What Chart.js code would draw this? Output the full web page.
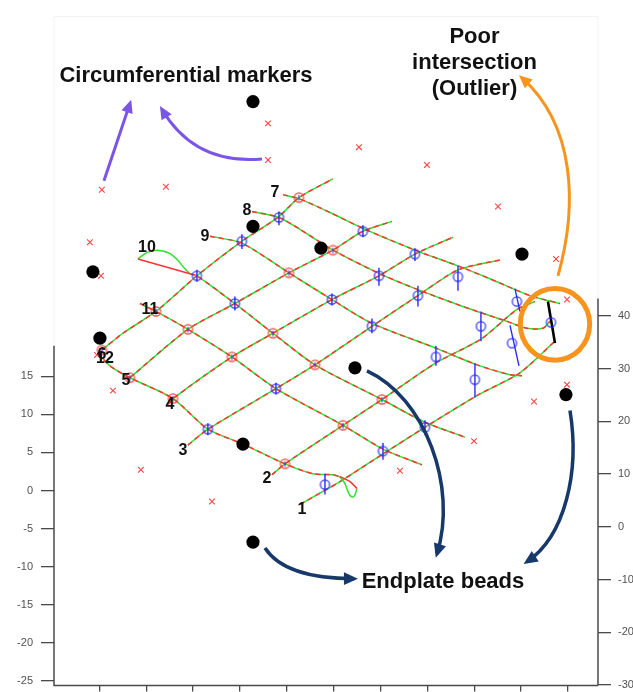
<!DOCTYPE html>
<html>
<head>
<meta charset="utf-8">
<title>Endplate grid</title>
<script src="https://cdn.jsdelivr.net/npm/chart.js@4.4.1/dist/chart.umd.min.js"></script>
<style>
  html, body { margin: 0; padding: 0; background: #ffffff; }
  canvas { display: block; }
</style>
</head>
<body>
<canvas id="grid" width="633" height="692"></canvas>
<script>
// ---- axes ----
const xTicks = [-25, -20, -15, -10, -5, 0, 5, 10, 15, 20, 25];
const leftTicks = [-25, -20, -15, -10, -5, 0, 5, 10, 15];
const rightTicks = [-30, -20, -10, 0, 10, 20, 30, 40];
const xRange = [-29.84, 28.2];
const leftRange = [-25.58, 63.51];
const rightRange = [-30.08, 98.65];
const leftAxisTop = 19;      // left axis line stops here (left units)
const rightAxisTop = 43.3;   // right axis line stops here (right units)
const frameTop = 62.2;       // faint outer box (left units)

// ---- traced lines, [x, y] in left-axis units ----
const line7 = [[-5.41,38.83],[-3.71,38.31],[-0.40,36.49],[3.12,34.41],[8.67,31.55],[13.26,29.48],[16.67,27.79],[20.94,25.58],[24.14,24.54]];
const line8 = [[-8.72,36.62],[-5.84,35.84],[-3.60,34.28],[-0.08,31.55],[4.94,28.44],[8.99,26.36],[13.79,24.15],[18.49,22.20],[20.62,21.29],[22.33,21.29],[23.08,22.20]];
const line9 = [[-13.20,33.37],[-9.79,32.46],[-4.77,28.57],[-0.19,25.06],[4.08,21.94],[10.91,18.69],[15.29,16.49],[18.81,15.19],[20.09,15.06]];
const line10 = [[-15.34,28.44],[-14.59,28.18],[-10.54,24.54],[-6.48,20.64],[-2.00,16.49],[5.15,11.94],[9.74,8.95],[14.01,7.00]];
const line10Chord = [[-20.89,30.39],[-15.34,28.44]];
const line10Loop = [[-20.89,30.39],[-19.82,31.29],[-18.54,31.49],[-17.15,30.84],[-15.87,29.09],[-15.34,28.44]];
const line11 = [[-20.67,24.54],[-18.96,23.50],[-15.55,21.16],[-10.86,17.53],[-6.16,13.37],[0.99,8.56],[5.26,5.44],[9.42,3.37]];
const line12 = [[-25.15,18.04],[-23.87,16.36],[-21.74,14.80],[-17.15,12.07],[-13.42,8.04],[-9.68,6.09],[-5.20,3.50],[-2.21,2.20],[-0.08,2.07],[0.67,1.81]];
const line12Chord = [[0.67,1.81],[1.74,1.16],[2.48,0.25]];
const line12Loop = [[0.67,1.81],[1.20,0.90],[1.74,-0.66],[2.16,-0.79],[2.48,0.25]];
const line6 = [[-24.73,18.43],[-22.49,20.64],[-18.96,23.50],[-14.59,28.18],[-9.79,32.72],[-5.95,35.84],[-3.71,38.44],[-0.08,40.91]];
const line5 = [[-21.74,14.80],[-15.55,21.16],[-10.54,24.54],[-4.77,28.57],[-0.08,31.55],[3.12,34.02],[6.22,35.32]];
const line4 = [[-17.68,11.29],[-17.15,12.07],[-10.86,17.53],[-6.48,20.64],[-0.19,25.06],[4.83,28.18],[8.67,31.03],[12.73,33.24]];
const line3 = [[-15.55,5.96],[-13.42,8.04],[-6.16,13.37],[-2.00,16.49],[4.08,21.55],[8.99,25.58],[13.26,28.96],[17.74,30.26]];
const line2 = [[-6.59,2.07],[-5.20,3.50],[0.99,8.56],[5.15,11.94],[10.91,16.75],[15.71,19.86],[19.55,23.76],[21.47,24.80]];
const line1 = [[-3.60,-1.83],[0.67,1.16],[5.26,4.80],[9.74,8.30],[15.29,12.46],[19.87,15.45],[23.61,19.60]];

// ---- intersection markers ----
const redRings = [[-3.71,38.44],[-0.08,31.55],[-4.77,28.57],[-18.96,23.50],[-15.55,21.16],[-6.48,20.64],[-10.86,17.53],[-2.00,16.49],[-17.15,12.07],[-21.74,14.80],[-24.73,18.43],[0.99,8.56],[5.15,11.94],[-5.20,3.50]];
const phiRings = [[-5.84,35.84],[-9.79,32.72],[3.12,34.02],[-14.59,28.18],[-10.54,24.54],[-0.19,25.06],[4.83,28.18],[8.67,31.03],[13.26,28.05],[8.99,25.58],[4.08,21.55],[15.71,21.55],[19.55,24.80],[19.02,19.34],[10.91,17.53],[15.07,14.54],[5.26,5.18],[9.74,8.30],[-6.16,13.37],[-13.42,8.04],[-0.93,0.77],[23.18,22.07]];
// [xTop, yTop, xBottom, yBottom]
const phiStems = [[-5.84,36.62,-5.84,34.80],[-9.79,33.63,-9.79,31.68],[3.12,34.80,3.12,33.24],[-14.59,28.96,-14.59,27.40],[-10.54,25.45,-10.54,23.63],[-0.19,25.84,-0.19,24.28],[4.83,29.22,4.83,26.88],[8.67,31.81,8.67,30.13],[13.26,29.48,13.26,26.23],[8.99,26.88,8.99,24.15],[4.08,22.59,4.08,20.64],[15.71,23.50,15.71,19.60],[19.34,26.49,19.87,23.50],[18.81,21.68,19.77,16.36],[10.91,18.95,10.91,16.36],[15.07,16.75,15.07,12.20],[5.26,6.22,5.26,4.02],[9.74,9.21,9.74,7.26],[-6.16,14.15,-6.16,12.59],[-13.42,8.82,-13.42,7.26],[-0.93,2.20,-0.93,-0.53]];
const outlierStem = [[22.86,24.80],[23.61,19.34]];
const beads = [[-8.61,51.04],[-8.61,34.67],[-1.36,31.81],[-25.69,28.70],[-24.94,19.99],[20.09,31.03],[2.27,16.10],[-9.68,6.09],[24.78,12.59],[-8.61,-6.77]];
const markers = [[-7.01,48.18],[2.70,45.06],[9.95,42.73],[-7.01,43.38],[17.53,37.27],[23.72,30.39],[24.89,25.06],[24.89,13.89],[21.37,11.68],[14.97,6.48],[7.07,2.59],[-12.99,-1.44],[-20.57,2.72],[-23.55,13.11],[-25.26,17.79],[-24.83,28.18],[-26.01,32.59],[-24.73,39.48],[-17.90,39.87]];

// ---- labels and call-outs ----
const lineLabels = [['1',-3.39,-2.48],['2',-7.12,1.55],['3',-16.08,5.18],['4',-17.47,11.29],['5',-22.17,14.41],['6',-24.73,17.79],['12',-24.41,17.27],['7',-6.27,39.09],['8',-9.26,36.75],['9',-13.74,33.37],['10',-19.93,31.94],['11',-19.60,23.76]];
const noteTexts = [['Circumferential markers',-15.76,53.64],['Poor',15.02,58.70],['intersection',15.02,55.33],['(Outlier)',15.02,51.95],['Endplate beads',11.66,-12.74]];
const purpleArrows = [
  [[-24.51,40.65],[-23.12,45.72],[-21.74,50.78]],
  [[-7.65,43.51],[-14.80,42.73],[-18.32,50.00]]
];
const orangeArrow = [[23.93,28.18],[26.06,37.53],[25.74,47.92],[20.09,54.16]];
const navyArrows = [
  [[3.55,15.71],[9.74,12.20],[13.26,0.51],[11.02,-8.32]],
  [[25.21,10.51],[26.28,2.46],[24.68,-5.99],[20.62,-9.36]],
  [[-7.33,-7.55],[-5.20,-11.57],[2.16,-11.57]]
];
const outlierRing = [23.61, 21.81, 3.7, 4.7]; // centre x, centre y, x radius, y radius

// ---------------------------------------------------------------
const GREEN = '#2fe02f', RED = '#ff3434', BLUE = '#2b2bff';
const toPts = a => a.map(p => ({x: p[0], y: p[1]}));
const AXES = {xAxisID: 'x', yAxisID: 'yL', clip: false};

function ringImage(color, tick) {
  const c = document.createElement('canvas');
  c.width = 13; c.height = 13;
  const g = c.getContext('2d');
  g.strokeStyle = color; g.lineWidth = 1.2;
  g.beginPath(); g.arc(6.5, 6.5, 4.6, 0, Math.PI * 2); g.stroke();
  if (tick) {
    g.strokeStyle = tick; g.lineWidth = 1;
    g.beginPath(); g.moveTo(6.5, 4); g.lineTo(6.5, 9.5); g.stroke();
  }
  return c;
}
const redRingImg = ringImage(RED, BLUE);
const phiRingImg = ringImage(BLUE, null);

function traced(arr) {
  return [
    {...AXES, data: toPts(arr), showLine: true, borderColor: RED, borderWidth: 1.5, borderDash: [5, 4], pointRadius: 0, tension: 0.25, order: 3},
    {...AXES, data: toPts(arr), showLine: true, borderColor: GREEN, borderWidth: 1.5, pointRadius: 0, tension: 0.25, order: 4}
  ];
}
function single(arr, color, tension) {
  return {...AXES, data: toPts(arr), showLine: true, borderColor: color, borderWidth: 1.5, pointRadius: 0, tension: tension, order: 3};
}

const stemPts = [];
phiStems.forEach(s => {
  stemPts.push({x: s[0], y: s[1]}, {x: s[2], y: s[3]}, {x: s[0], y: null});
});

const datasets = [
  {...AXES, data: toPts(beads), pointStyle: 'circle', pointRadius: 6.6, backgroundColor: '#000', borderColor: '#000', borderWidth: 0, order: 0},
  {...AXES, data: toPts(phiRings), pointStyle: phiRingImg, pointRadius: 5, borderColor: BLUE, order: 1},
  {...AXES, data: toPts(redRings), pointStyle: redRingImg, pointRadius: 5, borderColor: RED, order: 1},
  {...AXES, data: toPts(markers), pointStyle: 'crossRot', pointRadius: 4, borderColor: '#ff4444', backgroundColor: '#ff4444', borderWidth: 1.1, order: 1},
  {...AXES, data: stemPts, showLine: true, spanGaps: false, borderColor: BLUE, borderWidth: 1.4, pointRadius: 0, order: 2},
  {...AXES, data: toPts(outlierStem), showLine: true, borderColor: '#000', borderWidth: 2.6, pointRadius: 0, order: 2},
  single(line10Chord, RED, 0),
  single(line10Loop, GREEN, 0.4),
  single(line12Chord, RED, 0.3),
  single(line12Loop, GREEN, 0.4),
  ...[line1, line2, line3, line4, line5, line6, line7, line8, line9, line10, line11, line12].flatMap(traced)
];

// ---------------------------------------------------------------
function arrowPath(ctx, pts, color, width, head) {
  ctx.strokeStyle = color; ctx.fillStyle = color; ctx.lineWidth = width;
  ctx.lineCap = 'butt';
  ctx.beginPath();
  ctx.moveTo(pts[0][0], pts[0][1]);
  if (pts.length === 3) ctx.quadraticCurveTo(pts[1][0], pts[1][1], pts[2][0], pts[2][1]);
  else ctx.bezierCurveTo(pts[1][0], pts[1][1], pts[2][0], pts[2][1], pts[3][0], pts[3][1]);
  ctx.stroke();
  const e = pts[pts.length - 1], c = pts[pts.length - 2];
  let dx = e[0] - c[0], dy = e[1] - c[1];
  const len = Math.hypot(dx, dy) || 1; dx /= len; dy /= len;
  const tip = [e[0] + dx * 4, e[1] + dy * 4];
  const base = [tip[0] - dx * head, tip[1] - dy * head];
  const hw = head * 0.45;
  ctx.beginPath();
  ctx.moveTo(tip[0], tip[1]);
  ctx.lineTo(base[0] - dy * hw, base[1] + dx * hw);
  ctx.lineTo(base[0] + dy * hw, base[1] - dx * hw);
  ctx.closePath();
  ctx.fill();
}

const overlay = {
  id: 'overlay',
  afterDatasetsDraw(chart) {
    const {ctx, chartArea: a} = chart;
    const sx = chart.scales.x, sl = chart.scales.yL, sr = chart.scales.yR;
    const P = p => [sx.getPixelForValue(p[0]), sl.getPixelForValue(p[1])];
    ctx.save();

    // faint outer box
    const ft = sl.getPixelForValue(frameTop);
    ctx.strokeStyle = '#f3f3f3'; ctx.lineWidth = 1;
    ctx.beginPath();
    ctx.moveTo(a.left, sl.getPixelForValue(leftAxisTop)); ctx.lineTo(a.left, ft);
    ctx.lineTo(a.right, ft); ctx.lineTo(a.right, sr.getPixelForValue(rightAxisTop));
    ctx.stroke();

    // axis lines
    ctx.strokeStyle = '#4a4a4a'; ctx.lineWidth = 1.5;
    ctx.beginPath();
    ctx.moveTo(a.left, sl.getPixelForValue(leftAxisTop)); ctx.lineTo(a.left, a.bottom);
    ctx.lineTo(a.right, a.bottom);
    ctx.moveTo(a.right, sr.getPixelForValue(rightAxisTop)); ctx.lineTo(a.right, a.bottom);
    ctx.stroke();

    // tick labels
    ctx.fillStyle = '#505050';
    ctx.font = '11px "Liberation Sans", Arial, sans-serif';
    ctx.textBaseline = 'middle';
    ctx.textAlign = 'right';
    leftTicks.forEach(v => ctx.fillText(String(v), sl.right - 21, sl.getPixelForValue(v)));
    ctx.textAlign = 'left';
    rightTicks.forEach(v => ctx.fillText(String(v), sr.left + 20, sr.getPixelForValue(v)));

    // outlier ring
    const oc = P(outlierRing);
    const rx = Math.abs(sx.getPixelForValue(outlierRing[0] + outlierRing[2]) - oc[0]);
    const ry = Math.abs(sl.getPixelForValue(outlierRing[1] + outlierRing[3]) - oc[1]);
    ctx.strokeStyle = '#f7941d'; ctx.lineWidth = 5;
    ctx.beginPath(); ctx.ellipse(oc[0], oc[1], rx, ry, 0, 0, Math.PI * 2); ctx.stroke();

    // call-out arrows
    purpleArrows.forEach(ar => arrowPath(ctx, ar.map(P), '#7a55e6', 3, 13));
    arrowPath(ctx, orangeArrow.map(P), '#f7941d', 3, 13);
    navyArrows.forEach(ar => arrowPath(ctx, ar.map(P), '#17386b', 3.5, 14));

    // line numbers
    ctx.fillStyle = '#111';
    ctx.font = 'bold 16px "Liberation Sans", Arial, sans-serif';
    ctx.textAlign = 'center'; ctx.textBaseline = 'middle';
    lineLabels.forEach(l => { const p = P([l[1], l[2]]); ctx.fillText(l[0], p[0], p[1]); });

    // notes
    ctx.font = 'bold 22px "Liberation Sans", Arial, sans-serif';
    ctx.textBaseline = 'alphabetic';
    noteTexts.forEach(n => { const p = P([n[1], n[2]]); ctx.fillText(n[0], p[0], p[1]); });

    ctx.restore();
  }
};

const tickSet = list => scale => { scale.ticks = list.map(v => ({value: v})); };
const axisGrid = len => ({display: true, drawOnChartArea: false, drawTicks: true, tickLength: len, color: '#4a4a4a', lineWidth: 1.3});

new Chart(document.getElementById('grid'), {
  type: 'scatter',
  data: {datasets},
  options: {
    responsive: false,
    animation: false,
    devicePixelRatio: 1,
    layout: {padding: 0},
    plugins: {legend: {display: false}, tooltip: {enabled: false}},
    events: [],
    scales: {
      x: {type: 'linear', position: 'bottom', min: xRange[0], max: xRange[1], bounds: 'data',
          afterBuildTicks: tickSet(xTicks), ticks: {display: false}, grid: axisGrid(6),
          border: {display: false}, afterFit: s => { s.height = 6; }},
      yL: {type: 'linear', position: 'left', min: leftRange[0], max: leftRange[1], bounds: 'data',
           afterBuildTicks: tickSet(leftTicks), ticks: {display: false}, grid: axisGrid(13),
           border: {display: false}, afterFit: s => { s.width = 54; }},
      yR: {type: 'linear', position: 'right', min: rightRange[0], max: rightRange[1], bounds: 'data',
           afterBuildTicks: tickSet(rightTicks), ticks: {display: false}, grid: axisGrid(13),
           border: {display: false}, afterFit: s => { s.width = 35; }}
    }
  },
  plugins: [overlay]
});
</script>
</body>
</html>
